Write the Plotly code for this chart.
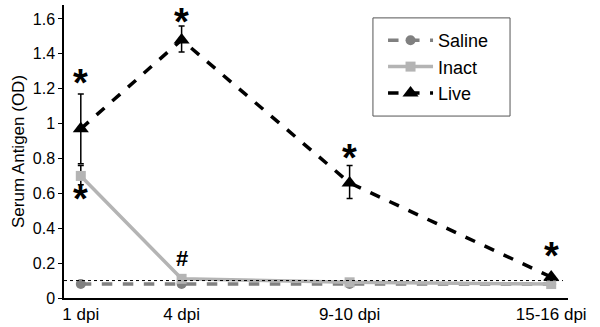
import plotly.graph_objects as go

days = [1, 4, 9, 15]
tick_labels = ["1 dpi", "4 dpi", "9-10 dpi", "15-16 dpi"]
saline = [0.08, 0.08, 0.08, 0.08]
inact = [0.70, 0.11, 0.09, 0.08]
inact_err_plus = [0.06, 0.0, 0.0, 0.0]
inact_err_minus = [0.05, 0.0, 0.0, 0.0]
live = [0.97, 1.48, 0.66, 0.12]
live_err_plus = [0.20, 0.08, 0.10, 0.0]
live_err_minus = [0.20, 0.07, 0.09, 0.0]
baseline = 0.1

star_x = [1, 1, 4, 9, 15]
star_y = [1.23, 0.57, 1.58, 0.80, 0.24]
hash_x = [4]
hash_y = [0.225]

fig = go.Figure()
fig.add_trace(go.Scatter(x=days, y=saline, name="Saline", mode="lines+markers",
                         line=dict(color="#808080", width=3.5, dash="dash"),
                         marker=dict(symbol="circle", size=10, color="#808080")))
fig.add_trace(go.Scatter(x=days, y=inact, name="Inact", mode="lines+markers",
                         line=dict(color="#b4b4b4", width=3.5),
                         marker=dict(symbol="square", size=10, color="#b4b4b4"),
                         error_y=dict(type="data", array=inact_err_plus, arrayminus=inact_err_minus,
                                      color="#000000", thickness=1.5, width=3)))
fig.add_trace(go.Scatter(x=days, y=live, name="Live", mode="lines+markers",
                         line=dict(color="#000000", width=3.5, dash="dash"),
                         marker=dict(symbol="triangle-up", size=14, color="#000000"),
                         error_y=dict(type="data", array=live_err_plus, arrayminus=live_err_minus,
                                      color="#000000", thickness=1.5, width=3)))

fig.add_shape(type="line", xref="paper", yref="y", x0=0, x1=0.99, y0=baseline, y1=baseline,
              line=dict(color="black", width=1, dash="dot"))

# legend frame
fig.add_shape(type="rect", xref="paper", yref="paper", x0=0.613, x1=0.885, y0=0.621, y1=0.956,
              line=dict(color="#555555", width=1), fillcolor="white", layer="below")

for x, y in zip(star_x, star_y):
    fig.add_annotation(x=x, y=y, text="<b>*</b>", showarrow=False,
                       font=dict(size=38, color="black", family="Liberation Sans"))
for x, y in zip(hash_x, hash_y):
    fig.add_annotation(x=x, y=y, text="<b>#</b>", showarrow=False,
                       font=dict(size=22, color="black", family="Liberation Sans"))

fig.update_layout(
    width=600, height=327,
    margin=dict(l=64, r=32, t=5, b=29),
    plot_bgcolor="white", paper_bgcolor="white",
    font=dict(family="Liberation Sans, Arial", size=16, color="black"),
    showlegend=True,
    legend=dict(x=0.633, y=0.942, xanchor="left", yanchor="top",
                borderwidth=0, bgcolor="rgba(0,0,0,0)",
                font=dict(size=18), itemwidth=45),
    xaxis=dict(range=[0.5, 15.5], tickmode="array", tickvals=days, ticktext=tick_labels,
               showline=True, linecolor="black", linewidth=1.5, showgrid=False,
               ticks="", zeroline=False, tickfont=dict(size=17), automargin=False),
    yaxis=dict(range=[0, 1.68], tickmode="array",
               tickvals=[0, 0.2, 0.4, 0.6, 0.8, 1, 1.2, 1.4, 1.6],
               ticktext=["0", "0.2", "0.4", "0.6", "0.8", "1", "1.2", "1.4", "1.6"],
               showline=True, linecolor="black", linewidth=1.5, showgrid=False,
               ticks="outside", ticklen=4, tickcolor="black", zeroline=False,
               tickfont=dict(size=16), automargin=False,
               title=dict(text="Serum Antigen (OD)", font=dict(size=17), standoff=4)),
)

fig.write_html("out.html", config={"displayModeBar": False},
               post_script="document.body.style.margin='0';")
